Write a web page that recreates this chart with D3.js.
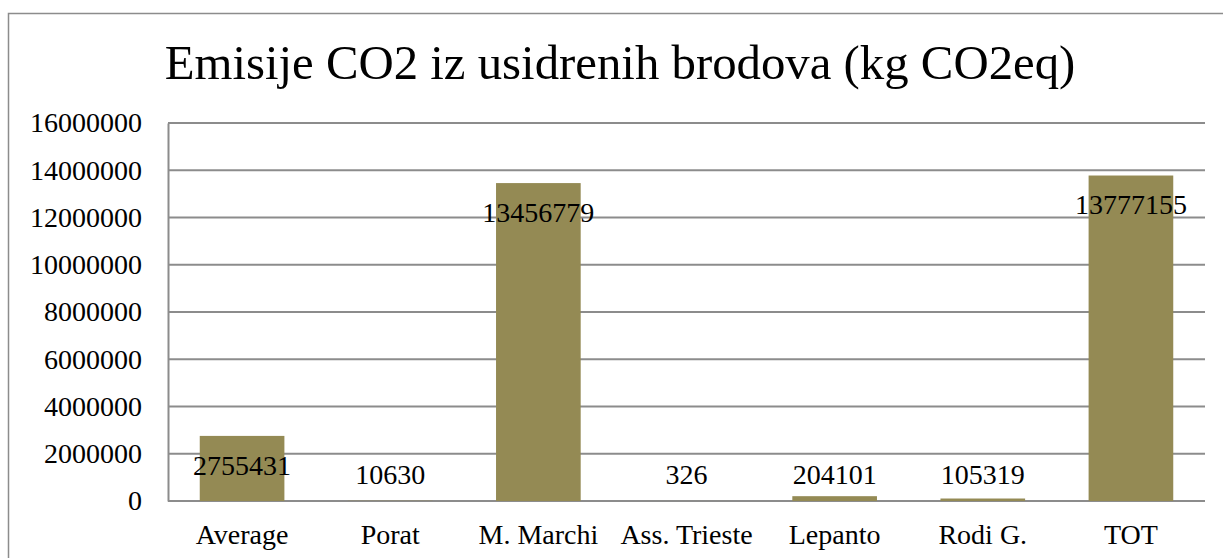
<!DOCTYPE html>
<html>
<head>
<meta charset="utf-8">
<script src="https://d3js.org/d3.v7.min.js"></script>
<style>
  body { margin: 0; background: #fff; }
  text { font-family: "Liberation Serif", "DejaVu Serif", serif; fill: #000; }
</style>
</head>
<body>
<div id="chart"></div>
<script>

// data
var categories = ["Average", "Porat", "M. Marchi", "Ass. Trieste", "Lepanto", "Rodi G.", "TOT"];
var values = [2755431, 10630, 13456779, 326, 204101, 105319, 13777155];
var yTicks = [0, 2000000, 4000000, 6000000, 8000000, 10000000, 12000000, 14000000, 16000000];
var title = "Emisije CO2 iz usidrenih brodova (kg CO2eq)";

var W = 1223, H = 558;
var margin = {top: 123, right: 18, bottom: 57, left: 168};
var width = W - margin.left - margin.right,
    height = H - margin.top - margin.bottom;

var svg = d3.select("#chart").append("svg")
    .attr("width", W)
    .attr("height", H);

// chart area border
svg.append("rect")
    .attr("x", 8.5).attr("y", 13.5)
    .attr("width", W + 20).attr("height", H + 20)
    .attr("fill", "none")
    .attr("stroke", "#8c8c8c")
    .attr("stroke-width", 1.5);

// title, sized to the width it has in the picture
var t = svg.append("text")
    .attr("x", 620)
    .attr("y", 79)
    .attr("text-anchor", "middle")
    .style("font-size", "48px")
    .text(title);
var tw = t.node().getComputedTextLength();
t.style("font-size", (48 * 911 / tw) + "px");

var g = svg.append("g")
    .attr("transform", "translate(" + margin.left + "," + margin.top + ")");

var x = d3.scaleBand()
    .domain(categories)
    .range([0, width])
    .padding(0);

var y = d3.scaleLinear()
    .domain([0, 16000000])
    .range([height, 0]);

// gridlines
g.append("g")
    .selectAll("line")
    .data(yTicks)
    .join("line")
    .attr("x1", 0)
    .attr("x2", width)
    .attr("y1", function(d) { return y(d); })
    .attr("y2", function(d) { return y(d); })
    .attr("stroke", "#8c8c8c")
    .attr("stroke-width", 2);

// y axis
var yAxis = g.append("g")
    .call(d3.axisLeft(y).tickValues(yTicks).tickSize(0).tickPadding(26).tickFormat(d3.format("d")));
yAxis.select(".domain").attr("stroke", "#8c8c8c").attr("stroke-width", 2);
yAxis.selectAll("text")
    .style("font-size", "28px")
    .style("font-family", "Liberation Serif, serif");

// x axis labels
var xAxis = g.append("g")
    .attr("transform", "translate(0," + height + ")")
    .call(d3.axisBottom(x).tickSize(0).tickPadding(23));
xAxis.select(".domain").remove();
xAxis.selectAll("text")
    .style("font-size", "28px")
    .style("font-family", "Liberation Serif, serif");

// bars
var barW = x.bandwidth() / 1.75;
g.selectAll(".bar")
    .data(values)
    .join("rect")
    .attr("class", "bar")
    .attr("x", function(d, i) { return x(categories[i]) + (x.bandwidth() - barW) / 2; })
    .attr("y", function(d) { return y(d); })
    .attr("width", barW)
    .attr("height", function(d) { return height - y(d); })
    .attr("fill", "#948a54");

// data labels
g.selectAll(".lbl")
    .data(values)
    .join("text")
    .attr("class", "lbl")
    .attr("x", function(d, i) { return x(categories[i]) + x.bandwidth() / 2; })
    .attr("y", function(d) { return Math.min(y(d) + 29, height - 27); })
    .attr("dy", "0.35em")
    .attr("text-anchor", "middle")
    .style("font-size", "28px")
    .text(function(d) { return d; });

</script>
</body>
</html>
